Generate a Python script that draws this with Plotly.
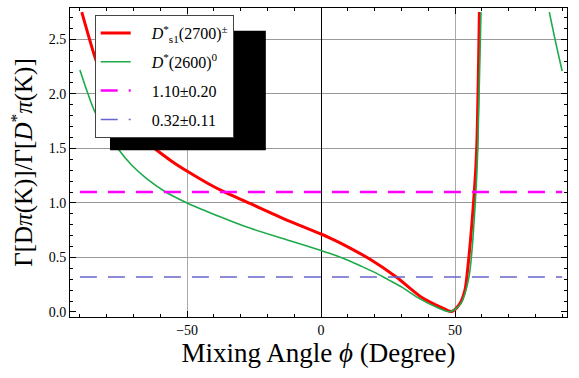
import plotly.graph_objects as go

# ---- data ----
red_phi = [-89.3, -84.3, -80.0, -75.0, -70.0, -65.0, -61.4, -55.9, -49.6, -42.2, -36.5,
           -26.5, -11.6, 0.0, 3.4, 7.1, 18.3, 28.2, 36.9, 43.2, 46.3, 48.8, 51.9, 53.7, 54.4,
           57.2, 58.1, 59.1]
red_val = [2.75, 2.33, 2.04, 1.82, 1.67, 1.555, 1.485, 1.385, 1.285, 1.178, 1.105,
           0.995, 0.83, 0.715, 0.678, 0.634, 0.483, 0.318, 0.145, 0.060, 0.025, 0.004, 0.08, 0.20, 0.32,
           1.10, 1.50, 2.75]

green_phi = [-90.0, -87.0, -84.5, -79.2, -75.7, -70.8, -65.2, -58.3, -50.0, -37.2, -27.7,
             -11.6, 0.0, 5.0, 10.0, 15.0, 20.0, 25.0, 30.0, 36.9, 43.0, 48.1, 52.0, 55.2,
             57.8, 58.5, 59.7]
green_val = [2.219, 2.0, 1.84, 1.63, 1.495, 1.35, 1.225, 1.105, 1.0, 0.868, 0.778,
             0.653, 0.563, 0.522, 0.474, 0.42, 0.363, 0.297, 0.23, 0.12, 0.045, 0.003, 0.07, 0.32,
             1.10, 1.50, 2.75]

green2_phi = [85.2, 87.6, 90.0]
green2_val = [2.75, 2.47, 2.209]

band_phi = [-90, 90]
exp1_val = 1.10
exp2_val = 0.32

pad = "\u00a0" * 4
names = [pad + "<i>D</i><sup>*</sup><sub>s1</sub>(2700)<sup>±</sup>",
         pad + "<i>D</i><sup>*</sup>(2600)<sup>0</sup>",
         pad + "1.10±0.20",
         pad + "0.32±0.11"]

RED = "#ff0000"
GREEN = "#1daa4a"
MAG = "#ff00ff"
BLUE = "#6666cc"
FONT = "Liberation Serif"

fig = go.Figure()
fig.add_trace(go.Scatter(x=red_phi, y=red_val, mode="lines", name=names[0],
                         line=dict(color=RED, width=3, shape="spline", smoothing=0.8),
                         legendgroup="a"))
fig.add_trace(go.Scatter(x=green_phi, y=green_val, mode="lines", name=names[1],
                         line=dict(color=GREEN, width=1.6, shape="spline", smoothing=0.8),
                         legendgroup="b"))
fig.add_trace(go.Scatter(x=green2_phi, y=green2_val, mode="lines", showlegend=False,
                         line=dict(color=GREEN, width=1.6, shape="spline"),
                         legendgroup="b"))
fig.add_trace(go.Scatter(x=band_phi, y=[exp1_val, exp1_val], mode="lines", name=names[2],
                         line=dict(color=MAG, width=2.5, dash="17px,11px"),
                         legendgroup="c"))
fig.add_trace(go.Scatter(x=band_phi, y=[exp2_val, exp2_val], mode="lines", name=names[3],
                         line=dict(color=BLUE, width=1.5, dash="17px,11px"),
                         legendgroup="d"))

# legend drop shadow
fig.add_shape(type="rect", xref="paper", yref="paper",
              x0=0.0805, x1=0.394, y0=0.540, y1=0.926,
              fillcolor="black", line=dict(width=0), layer="above")

fig.update_layout(
    width=579, height=378,
    margin=dict(l=70, r=12, t=8, b=61),
    paper_bgcolor="white", plot_bgcolor="white",
    font=dict(family=FONT, color="black", size=14),
    legend=dict(x=0.0497, y=0.977, xanchor="left", yanchor="top",
                bgcolor="white", bordercolor="#444", borderwidth=1,
                font=dict(family=FONT, size=16), tracegroupgap=5,
                itemwidth=30),
    xaxis=dict(range=[-93.7, 91.8], tickvals=[-50, 0, 50], ticktext=["\u221250", "0", "50"],
               automargin=False,
               showgrid=True, gridcolor="#aaaaaa", gridwidth=1,
               zeroline=True, zerolinecolor="black", zerolinewidth=1,
               showline=True, linecolor="black", linewidth=1, mirror="allticks",
               ticks="inside", ticklen=6, tickcolor="black",
               minor=dict(dtick=10, tick0=0, ticks="inside", ticklen=3, tickcolor="black", showgrid=False),
               tickfont=dict(family=FONT, size=14),
               title=dict(text="Mixing Angle <i>ϕ</i> (Degree)", font=dict(family=FONT, size=27), standoff=6)),
    yaxis=dict(range=[-0.046, 2.787], tickvals=[0, 0.5, 1.0, 1.5, 2.0, 2.5],
               ticktext=["0.0", "0.5", "1.0", "1.5", "2.0", "2.5"],
               automargin=False,
               showgrid=True, gridcolor="#999999", gridwidth=1,
               zeroline=True, zerolinecolor="rgba(0,0,0,0)",
               showline=True, linecolor="black", linewidth=1, mirror="allticks",
               ticks="inside", ticklen=6, tickcolor="black",
               minor=dict(dtick=0.1, tick0=0, ticks="inside", ticklen=3, tickcolor="black", showgrid=False),
               tickfont=dict(family=FONT, size=14),
               title=dict(text="Γ[D<i>π</i>(K)]/Γ[<i>D</i><sup>*</sup><i>π</i>(K)]",
                          font=dict(family=FONT, size=25), standoff=8)),
)

fig.write_html("out.html", config={"displayModeBar": False},
               post_script="document.body.style.margin='0';")
